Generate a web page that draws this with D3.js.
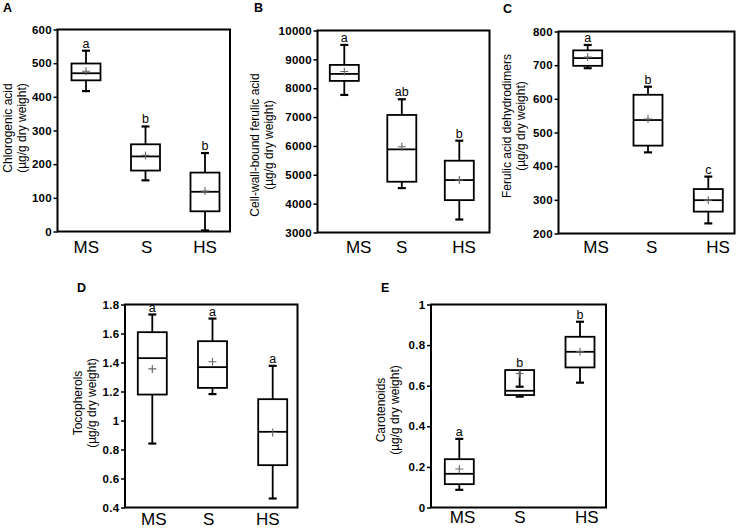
<html>
<head>
	<script src="https://d3js.org/d3.v7.min.js"></script>
	<style>
		body { margin: 0; background: #fff; }
		text { font-family: "Liberation Sans", Arial, sans-serif; fill: #000; }
	</style>
</head>
<body>
<script>
const groups = ["MS", "S", "HS"];

// each row: [lower whisker, Q1, median, mean, Q3, upper whisker]
const chlorogenicAcid = [[417, 449, 470, 476, 499, 537], [152, 181, 223, 226, 259, 312], [3, 60, 118, 120, 175, 233]];
const ferulicBound = [[7767, 8253, 8496, 8577, 8808, 9500], [4539, 4759, 5881, 5974, 7073, 7617], [3451, 4122, 4817, 4817, 5488, 6182]];
const ferulicDimers = [[691, 698, 721, 724, 744, 760], [441, 461, 537, 540, 612, 636], [230, 265, 299, 299, 332, 369]];
const tocopherols = [[0.841, 1.179, 1.430, 1.356, 1.609, 1.731], [1.182, 1.225, 1.368, 1.405, 1.547, 1.703], [0.462, 0.692, 0.922, 0.917, 1.147, 1.377]];
const carotenoids = [[0.087, 0.115, 0.166, 0.190, 0.238, 0.338], [0.546, 0.554, 0.575, 0.660, 0.677, 0.595], [0.615, 0.690, 0.767, 0.767, 0.841, 0.915]];

const chlorogenicLetters = ["a", "b", "b"];
const ferulicBoundLetters = ["a", "ab", "b"];
const ferulicDimersLetters = ["a", "b", "c"];
const tocopherolsLetters = ["a", "a", "a"];
const carotenoidsLetters = ["a", "b", "b"];

const chlorogenicTicks = [0, 100, 200, 300, 400, 500, 600];
const ferulicBoundTicks = [3000, 4000, 5000, 6000, 7000, 8000, 9000, 10000];
const ferulicDimersTicks = [200, 300, 400, 500, 600, 700, 800];
const tocopherolsTicks = [0.4, 0.6, 0.8, 1, 1.2, 1.4, 1.6, 1.8];
const carotenoidsTicks = [0, 0.2, 0.4, 0.6, 0.8, 1];

const unit = "(\u00b5g/g dry weight)";

// layout of the five panels (frame, box centres, category label centres, titles)
const panels = [
	{ tag: "A", tagX: 3, tagY: 12, stats: chlorogenicAcid, letters: chlorogenicLetters, ticks: chlorogenicTicks,
	  title: ["Chlorogenic acid", unit], tx: [8, 22], ty: 128,
	  x0: 57.5, x1: 230, y0: 29.5, y1: 231.5, bx: [86, 205], lx: [86.3, 146.7, 205], ly: 253 },
	{ tag: "B", tagX: 254, tagY: 12, stats: ferulicBound, letters: ferulicBoundLetters, ticks: ferulicBoundTicks,
	  title: ["Cell-wall-bound ferulic acid", unit], tx: [255, 268.5], ty: 145,
	  x0: 317.5, x1: 489.5, y0: 30.5, y1: 232.5, bx: [344.3, 459.3], lx: [358.7, 401.7, 464], ly: 253 },
	{ tag: "C", tagX: 503, tagY: 12.5, stats: ferulicDimers, letters: ferulicDimersLetters, ticks: ferulicDimersTicks,
	  title: ["Ferulic acid dehydrodimers", unit], tx: [507, 521], ty: 126,
	  x0: 558.5, x1: 734.5, y0: 31.5, y1: 233.5, bx: [587.7, 708.3], lx: [596, 651.7, 718], ly: 253 },
	{ tag: "D", tagX: 77, tagY: 291.5, stats: tocopherols, letters: tocopherolsLetters, ticks: tocopherolsTicks,
	  title: ["Tocopherols", unit], tx: [78, 91.5], ty: 403,
	  x0: 125, x1: 297.5, y0: 304.5, y1: 507.5, bx: [152.3, 272.7], lx: [153.8, 208.7, 267.7], ly: 525 },
	{ tag: "E", tagX: 381, tagY: 291.5, stats: carotenoids, letters: carotenoidsLetters, ticks: carotenoidsTicks,
	  title: ["Carotenoids", unit], tx: [381, 394.5], ty: 410,
	  x0: 431, x1: 606, y0: 304.5, y1: 507.5, bx: [459.3, 580], lx: [462.5, 520, 586.7], ly: 523 }
];

const boxW = 29;
const capW = 8;

const svg = d3.select("body").append("svg")
	.attr("width", 737)
	.attr("height", 528);

panels.forEach(p => {
	const y = d3.scaleLinear()
		.domain([p.ticks[0], p.ticks[p.ticks.length - 1]])
		.range([p.y1, p.y0]);
	const x = d3.scalePoint().domain(groups).range(p.bx);
	const xl = d3.scaleOrdinal().domain(groups).range(p.lx);

	const g = svg.append("g");

	// panel letter
	g.append("text")
		.attr("x", p.tagX).attr("y", p.tagY)
		.attr("fill", "#000")
		.style("font-size", "12.5px").style("font-weight", "bold")
		.text(p.tag);

	// y axis
	const axis = g.append("g")
		.attr("transform", "translate(" + p.x0 + ",0)")
		.call(d3.axisLeft(y).tickValues(p.ticks).tickSize(4).tickSizeOuter(0).tickPadding(1.5).tickFormat(d3.format("~g")));
	axis.select(".domain").remove();
	axis.selectAll(".tick line").attr("stroke", "#000").attr("stroke-width", 1.5);
	axis.selectAll(".tick text")
		.attr("fill", "#000")
		.style("font-size", "11.5px").style("font-weight", "bold")
		.style("letter-spacing", "0.3px")
		.attr("font-family", null);

	// y title (two lines)
	p.title.forEach((t, i) => {
		g.append("text")
			.attr("transform", "translate(" + p.tx[i] + "," + p.ty + ") rotate(-90)")
			.attr("text-anchor", "middle")
			.attr("dominant-baseline", "central")
			.attr("fill", "#000")
			.style("font-size", "12px")
			.text(t);
	});

	// frame
	g.append("rect")
		.attr("x", p.x0).attr("y", p.y0)
		.attr("width", p.x1 - p.x0).attr("height", p.y1 - p.y0)
		.attr("fill", "none").attr("stroke", "#000").attr("stroke-width", 2);

	// category labels
	g.selectAll(".cat").data(groups).enter().append("text")
		.attr("x", d => xl(d)).attr("y", p.ly)
		.attr("text-anchor", "middle")
		.attr("fill", "#000")
		.style("font-size", "17px")
		.text(d => d);

	// boxes
	const b = g.selectAll(".box").data(p.stats).enter().append("g");
	const cx = (d, i) => x(groups[i]);

	b.append("rect")
		.attr("x", (d, i) => cx(d, i) - boxW / 2)
		.attr("y", d => y(d[4]))
		.attr("width", boxW)
		.attr("height", d => y(d[1]) - y(d[4]))
		.attr("fill", "#fff").attr("stroke", "#000").attr("stroke-width", 1.8);

	// whiskers: upper from Q3 to max, lower from Q1 to min
	[[4, 5], [1, 0]].forEach(([from, to]) => {
		b.append("line")
			.attr("x1", cx).attr("x2", cx)
			.attr("y1", d => y(d[from])).attr("y2", d => y(d[to]))
			.attr("stroke", "#000").attr("stroke-width", 1.8);
		b.append("line")
			.attr("x1", (d, i) => cx(d, i) - capW / 2).attr("x2", (d, i) => cx(d, i) + capW / 2)
			.attr("y1", d => y(d[to])).attr("y2", d => y(d[to]))
			.attr("stroke", "#000").attr("stroke-width", 2.2);
	});

	// median
	b.append("line")
		.attr("x1", (d, i) => cx(d, i) - boxW / 2).attr("x2", (d, i) => cx(d, i) + boxW / 2)
		.attr("y1", d => y(d[2])).attr("y2", d => y(d[2]))
		.attr("stroke", "#000").attr("stroke-width", 1.8);

	// mean marker
	b.append("path")
		.attr("d", (d, i) => {
			const mx = cx(d, i), my = y(d[3]);
			return "M" + (mx - 4) + "," + my + "H" + (mx + 4) + "M" + mx + "," + (my - 4) + "V" + (my + 4);
		})
		.attr("stroke", "#666").attr("stroke-width", 1.1).attr("fill", "none");

	// significance letters
	b.append("text")
		.attr("x", cx)
		.attr("y", d => y(Math.max(d[4], d[5])) - 3)
		.attr("text-anchor", "middle")
		.attr("fill", "#000")
		.style("font-size", "12.5px")
		.text((d, i) => p.letters[i]);
});
</script>
</body>
</html>
